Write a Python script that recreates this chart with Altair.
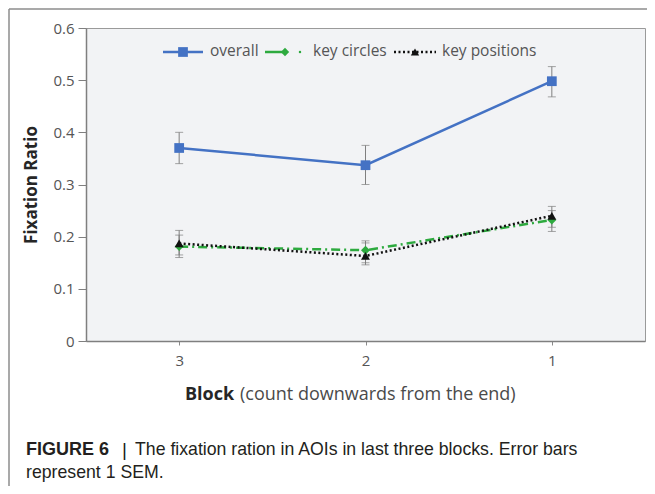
import altair as alt
import pandas as pd

# ---- data ----
blocks = ["3", "2", "1"]
overall = [0.370, 0.337, 0.498]
overall_lo = [0.340, 0.300, 0.468]
overall_hi = [0.400, 0.375, 0.526]
circles = [0.181, 0.174, 0.232]
circles_lo = [0.160, 0.150, 0.210]
circles_hi = [0.203, 0.188, 0.250]
positions = [0.187, 0.163, 0.240]
positions_lo = [0.165, 0.146, 0.218]
positions_hi = [0.212, 0.192, 0.258]

series_names = ["overall", "key circles", "key positions"]
series_colors = ["#4472C4", "#2EAA3F", "#111111"]
y_ticks = [0, 0.1, 0.2, 0.3, 0.4, 0.5, 0.6]

rows = []
for name, vals, lo, hi in [
    ("overall", overall, overall_lo, overall_hi),
    ("key circles", circles, circles_lo, circles_hi),
    ("key positions", positions, positions_lo, positions_hi),
]:
    for b, v, l, h in zip(blocks, vals, lo, hi):
        rows.append({"block": b, "series": name, "value": v, "lo": l, "hi": h})
df = pd.DataFrame(rows)

W, H = 559, 313
FONT = "Open Sans"

xenc = alt.X("block:N", sort=blocks, scale=alt.Scale(type="point", padding=0.5),
             axis=alt.Axis(title=None, labelAngle=0, labelFont=FONT, labelFontSize=15,
                           labelColor="#555555", labelPadding=8, tickSize=4,
                           tickColor="#8a8a8a", domainColor="#7f7f7f", domainWidth=1.5,
                           grid=False))
yscale = alt.Scale(domain=[0, 0.6], nice=False)
yenc = alt.Y("value:Q", scale=yscale,
             axis=alt.Axis(title=None, values=y_ticks, labelFont=FONT, labelFontSize=15,
                           labelColor="#555555", labelPadding=4, tickSize=8,
                           tickColor="#7f7f7f", domainColor="#7f7f7f", domainWidth=1.5,
                           grid=False,
                           labelExpr="datum.value == 0 ? '0' : format(datum.value, '.1f')"))

base = alt.Chart(df)

# error bars
err_rule = base.mark_rule(color="#7f7f7f", strokeWidth=1).encode(
    x=xenc, y=alt.Y("lo:Q", scale=yscale), y2="hi:Q")
cap_lo = base.mark_tick(color="#7f7f7f", thickness=1, size=8).encode(
    x=xenc, y=alt.Y("lo:Q", scale=yscale))
cap_hi = base.mark_tick(color="#7f7f7f", thickness=1, size=8).encode(
    x=xenc, y=alt.Y("hi:Q", scale=yscale))

def series_layers(name, color, dash, shape, size, width):
    d = base.transform_filter(alt.datum.series == name)
    line_kwargs = dict(color=color, strokeWidth=width)
    if dash:
        line_kwargs["strokeDash"] = dash
    ln = d.mark_line(**line_kwargs).encode(x=xenc, y=yenc)
    pt = d.mark_point(shape=shape, filled=True, size=size, color=color, opacity=1).encode(x=xenc, y=yenc)
    return ln, pt

l_ov, p_ov = series_layers("overall", series_colors[0], None, "square", 95, 2.5)
l_kc, p_kc = series_layers("key circles", series_colors[1], [9, 4, 2, 4], "diamond", 80, 2.5)
l_kp, p_kp = series_layers("key positions", series_colors[2], [2, 2.5], "triangle-up", 80, 2.5)

# ---- custom legend (Excel-style, inside plot) ----
leg_y = 24
leg = []
leg.append(alt.Chart(pd.DataFrame({"s": [series_names[0]]})).mark_rule(
    color=series_colors[0], strokeWidth=2.5).encode(
    x=alt.value(163 - 86), x2=alt.value(203 - 86), y=alt.value(leg_y)))
leg.append(alt.Chart(pd.DataFrame({"s": [series_names[0]]})).mark_point(
    shape="square", filled=True, size=95, color=series_colors[0], opacity=1).encode(
    x=alt.value(183 - 86), y=alt.value(leg_y)))
leg.append(alt.Chart(pd.DataFrame({"s": [series_names[1]]})).mark_rule(
    color=series_colors[1], strokeWidth=2.5).encode(
    x=alt.value(265 - 86), x2=alt.value(285 - 86), y=alt.value(leg_y)))
leg.append(alt.Chart(pd.DataFrame({"s": [series_names[1]]})).mark_point(
    shape="diamond", filled=True, size=70, color=series_colors[1], opacity=1).encode(
    x=alt.value(285 - 86), y=alt.value(leg_y)))
leg.append(alt.Chart(pd.DataFrame({"s": [series_names[1]]})).mark_point(
    shape="circle", filled=True, size=6, color=series_colors[1], opacity=1).encode(
    x=alt.value(300 - 86), y=alt.value(leg_y)))
leg.append(alt.Chart(pd.DataFrame({"s": [series_names[2]]})).mark_rule(
    color=series_colors[2], strokeWidth=2.5, strokeDash=[2, 2.5]).encode(
    x=alt.value(394 - 86), x2=alt.value(436 - 86), y=alt.value(leg_y)))
leg.append(alt.Chart(pd.DataFrame({"s": [series_names[2]]})).mark_point(
    shape="triangle-up", filled=True, size=70, color=series_colors[2], opacity=1).encode(
    x=alt.value(415 - 86), y=alt.value(leg_y)))
for name, xx in zip(series_names, [210 - 86, 313 - 86, 442 - 86]):
    leg.append(alt.Chart(pd.DataFrame({"t": [name]})).mark_text(
        align="left", baseline="middle", font=FONT, fontSize=15.5, color="#555555").encode(
        x=alt.value(xx), y=alt.value(leg_y - 1), text="t:N"))

# ---- axis titles ----
ytitle = alt.Chart(pd.DataFrame({"t": ["Fixation Ratio"]})).mark_text(
    angle=270, align="center", baseline="middle", font=FONT, fontSize=17,
    fontWeight="bold", color="#262626").encode(
    x=alt.value(32 - 86), y=alt.value(185 - 28), text="t:N")
xtitle_b = alt.Chart(pd.DataFrame({"t": ["Block"]})).mark_text(
    align="left", baseline="middle", font=FONT, fontSize=18,
    fontWeight="bold", color="#262626").encode(
    x=alt.value(185 - 86), y=alt.value(395 - 28), text="t:N")
xtitle_r = alt.Chart(pd.DataFrame({"t": ["(count downwards from the end)"]})).mark_text(
    align="left", baseline="middle", font=FONT, fontSize=18,
    color="#4a4a4a").encode(
    x=alt.value(240 - 86), y=alt.value(395 - 28), text="t:N")

# ---- caption ----
CAP = "Liberation Sans"
cap1 = alt.Chart(pd.DataFrame({"t": ["FIGURE 6"]})).mark_text(
    align="left", baseline="middle", font=CAP, fontSize=18, fontWeight="bold",
    color="#231f20").encode(x=alt.value(26 - 86), y=alt.value(450 - 28), text="t:N")
cap2 = alt.Chart(pd.DataFrame({"t": ["|"]})).mark_text(
    align="left", baseline="middle", font=CAP, fontSize=19,
    color="#231f20").encode(x=alt.value(122 - 86), y=alt.value(450 - 28), text="t:N")
cap3 = alt.Chart(pd.DataFrame({"t": ["The fixation ration in AOIs in last three blocks. Error bars"]})).mark_text(
    align="left", baseline="middle", font=CAP, fontSize=17.7,
    color="#231f20").encode(x=alt.value(135 - 86), y=alt.value(450 - 28), text="t:N")
cap4 = alt.Chart(pd.DataFrame({"t": ["represent 1 SEM."]})).mark_text(
    align="left", baseline="middle", font=CAP, fontSize=17.7,
    color="#231f20").encode(x=alt.value(26 - 86), y=alt.value(473 - 28), text="t:N")

# ---- outer frame ----
frame_top = alt.Chart(pd.DataFrame({"f": ["frame"]})).mark_rule(
    color="#8c8c8c", strokeWidth=1.5).encode(
    x=alt.value(9 - 86), x2=alt.value(W + 20), y=alt.value(-19))
frame_left = alt.Chart(pd.DataFrame({"f": ["frame"]})).mark_rule(
    color="#8c8c8c", strokeWidth=1.5).encode(
    x=alt.value(9 - 86), y=alt.value(-19), y2=alt.value(H + 150))

chart = alt.layer(
    l_ov, l_kc, l_kp,
    err_rule, cap_lo, cap_hi,
    p_ov, p_kc, p_kp,
    *leg, ytitle, xtitle_b, xtitle_r, cap1, cap2, cap3, cap4,
    frame_top, frame_left,
).properties(
    width=W, height=H,
    autosize=alt.AutoSizeParams(type="none"),
    padding={"left": 78, "top": 20, "right": 2, "bottom": 145},
    background="white",
).configure_view(
    fill="#f2f3f5", stroke="#9a9a9a", strokeWidth=1,
)

chart.save("out.html", embed_options={"renderer": "svg", "actions": False})
